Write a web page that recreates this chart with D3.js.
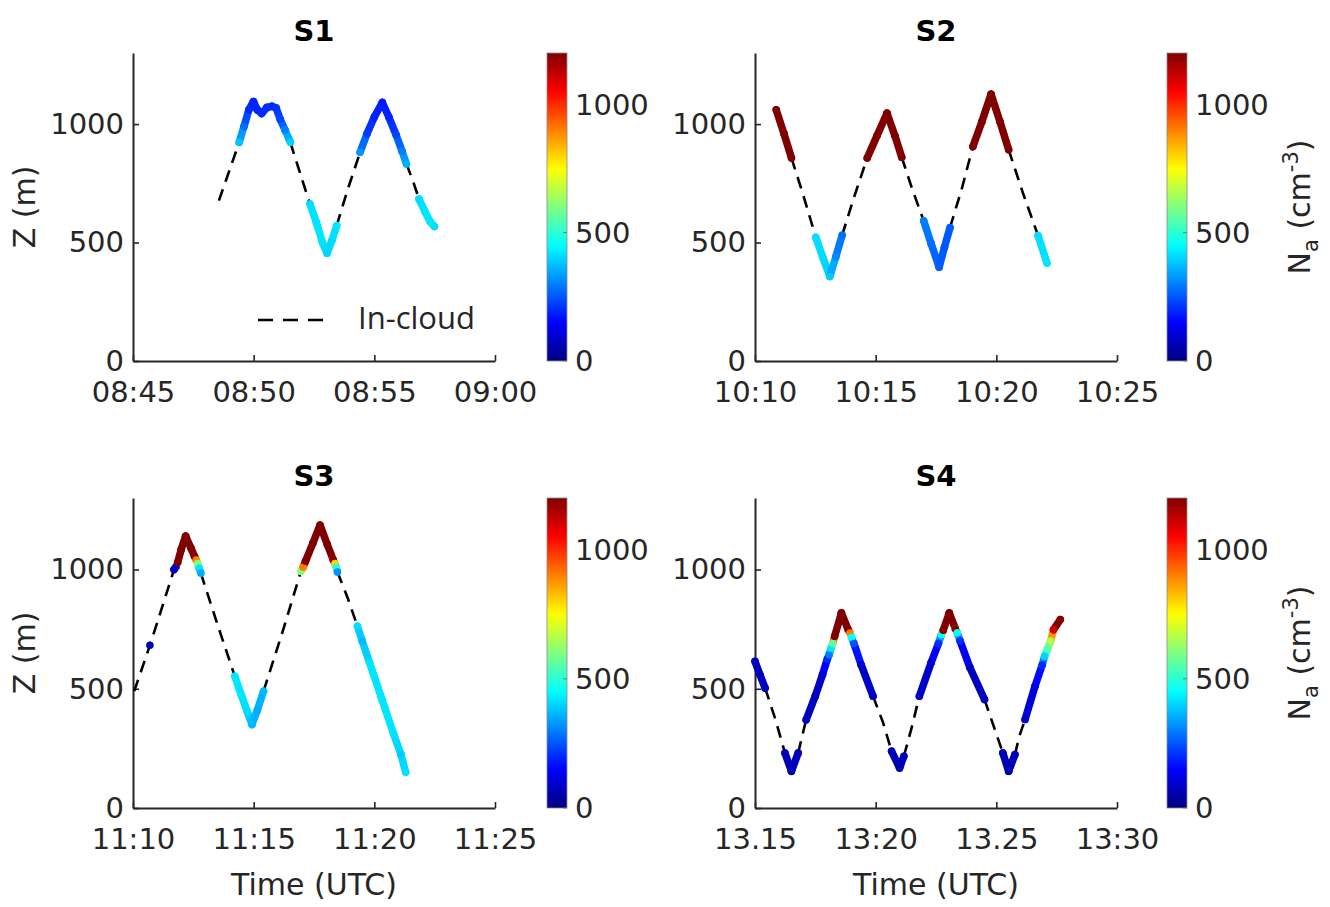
<!DOCTYPE html>
<html><head><meta charset="utf-8">
<script src="https://cdn.jsdelivr.net/npm/d3@7"></script>
<style>body{margin:0;background:#fff}svg{display:block}</style>
</head><body><svg id="c" width="1330" height="907"></svg>
<script>
// ---------- DATA (time in minutes after the first x tick, altitude in m, Na in cm^-3; null = in-cloud) ----------
const panelTitles = ["S1", "S2", "S3", "S4"];
const xTickValues = [0, 5, 10, 15];
const s1XTicks = ["08:45", "08:50", "08:55", "09:00"];
const s2XTicks = ["10:10", "10:15", "10:20", "10:25"];
const s3XTicks = ["11:10", "11:15", "11:20", "11:25"];
const s4XTicks = ["13.15", "13:20", "13.25", "13:30"];
const yTicks = [0, 500, 1000];
const cbTicks = [0, 500, 1000];

const s1T = [3.56, 4.4, 4.6, 4.8, 4.99, 5.15, 5.33, 5.55, 5.75, 5.93, 6.1, 6.3, 6.52, 6.9, 7.33, 7.6, 7.85, 8.04, 8.25, 8.44, 8.9, 9.41, 9.7, 10.0, 10.33, 10.6, 10.9, 11.15, 11.33, 11.6, 11.85, 12.1, 12.3, 12.49];
const s1Z = [677, 923, 990, 1060, 1095, 1060, 1045, 1070, 1075, 1068, 1020, 975, 923, 800, 663, 585, 500, 455, 510, 572, 725, 881, 960, 1030, 1091, 1030, 955, 885, 832, 760, 684, 630, 590, 568];
const s1N = [null, 380, 280, 200, 190, 190, 200, 200, 200, 210, 230, 300, 400, null, 410, 420, 420, 400, 410, 420, null, 330, 220, 190, 180, 190, 230, 300, 360, null, 410, 420, 420, 410];

const s2T = [0.88, 1.2, 1.51, 2.0, 2.52, 2.8, 3.1, 3.35, 3.61, 4.1, 4.65, 5.05, 5.47, 5.8, 6.08, 6.5, 6.99, 7.3, 7.63, 7.85, 8.08, 8.55, 9.03, 9.4, 9.78, 10.15, 10.51, 11.1, 11.73, 12.1];
const s2Z = [1060, 960, 857, 700, 522, 440, 357, 440, 531, 690, 857, 950, 1046, 950, 860, 730, 592, 495, 396, 480, 563, 720, 905, 1010, 1126, 1010, 892, 710, 529, 413];
const s2N = [1300, 1300, 1300, null, 410, 410, 390, 310, 280, null, 1300, 1300, 1300, 1300, 1300, null, 300, 280, 260, 250, 260, null, 1300, 1300, 1300, 1300, 1300, null, 410, 420];

const s3T = [0.05, 0.7, 1.2, 1.7, 1.78, 1.85, 2.0, 2.18, 2.4, 2.55, 2.62, 2.68, 2.74, 2.81, 3.5, 4.22, 4.5, 4.75, 4.93, 5.15, 5.41, 6.2, 6.96, 7.05, 7.15, 7.45, 7.75, 8.05, 8.3, 8.37, 8.42, 8.47, 8.9, 9.3, 9.5, 9.8, 10.3, 10.8, 11.1, 11.3];
const s3Z = [490, 682, 840, 1000, 1012, 1030, 1085, 1140, 1090, 1055, 1040, 1025, 1005, 985, 770, 552, 470, 400, 350, 410, 490, 740, 993, 1010, 1035, 1110, 1186, 1105, 1040, 1025, 1010, 990, 880, 762, 700, 610, 460, 310, 225, 150];
const s3N = [null, 60, null, 80, 100, 1300, 1300, 1300, 1300, 1300, 900, 600, 420, 350, null, 420, 420, 410, 370, 350, 370, null, 600, 900, 1300, 1300, 1300, 1300, 1300, 800, 500, 320, null, 410, 370, 420, 420, 420, 390, 420];

const s4T = [0.0, 0.2, 0.42, 0.85, 1.24, 1.51, 1.79, 1.95, 2.12, 2.5, 2.8, 3.0, 3.07, 3.15, 3.22, 3.3, 3.58, 3.85, 3.94, 4.0, 4.1, 4.4, 4.89, 5.3, 5.66, 5.99, 6.17, 6.5, 6.81, 7.3, 7.6, 7.72, 7.8, 8.05, 8.3, 8.38, 8.5, 8.9, 9.51, 9.9, 10.27, 10.51, 10.77, 10.95, 11.19, 11.6, 11.9, 12.0, 12.12, 12.25, 12.37, 12.65];
const s4Z = [615, 560, 503, 370, 231, 154, 231, 300, 370, 470, 560, 625, 643, 670, 690, 720, 818, 750, 734, 715, 690, 600, 469, 360, 238, 168, 217, 340, 469, 610, 690, 727, 745, 818, 752, 735, 700, 590, 455, 340, 231, 154, 224, 300, 371, 510, 600, 636, 668, 700, 748, 790];
const s4N = [70, 70, 80, null, 70, 60, 70, null, 80, 70, 100, 200, 300, 420, 560, 1250, 1300, 1300, 900, 450, 250, 100, 70, null, 70, 60, 70, null, 80, 100, 200, 450, 1250, 1300, 1300, 450, 200, 80, 70, null, 70, 60, 70, null, 90, 120, 200, 400, 550, 650, 1100, 1300];

const seriesT = [s1T, s2T, s3T, s4T];
const seriesZ = [s1Z, s2Z, s3Z, s4Z];
const seriesN = [s1N, s2N, s3N, s4N];
const xTickLabels = [s1XTicks, s2XTicks, s3XTicks, s4XTicks];

// ---------- LAYOUT ----------
const layout = [
  {x0: 133, x1: 495, y0: 53, y1: 361, cb: 547, left: true, bottom: false, cbLabel: false},
  {x0: 755, x1: 1117, y0: 53, y1: 361, cb: 1167, left: false, bottom: false, cbLabel: true},
  {x0: 133, x1: 495, y0: 498, y1: 808, cb: 547, left: true, bottom: true, cbLabel: false},
  {x0: 755, x1: 1117, y0: 498, y1: 808, cb: 1167, left: false, bottom: true, cbLabel: true}
];
const TXT = "#262626";
const FONT = "'DejaVu Sans', sans-serif";

function jet(v) {
  v = Math.max(0, Math.min(1, v));
  const c = x => Math.round(255 * Math.max(0, Math.min(1, x)));
  return `rgb(${c(1.5 - Math.abs(4 * v - 3))},${c(1.5 - Math.abs(4 * v - 2))},${c(1.5 - Math.abs(4 * v - 1))})`;
}
const color = d3.scaleSequential(jet).domain([0, 1200]).clamp(true);

const svg = d3.select("#c");
svg.append("rect").attr("width", 1330).attr("height", 907).attr("fill", "#fff");

const defs = svg.append("defs");
const grad = defs.append("linearGradient").attr("id", "jetgrad")
  .attr("x1", 0).attr("y1", 1).attr("x2", 0).attr("y2", 0);
d3.range(0, 1.0001, 0.02).forEach(t => grad.append("stop").attr("offset", t).attr("stop-color", jet(t)));

function styleAxis(g) {
  g.select(".domain").attr("stroke", TXT).attr("stroke-width", 2);
  g.selectAll(".tick line").attr("stroke", TXT).attr("stroke-width", 1.6);
  g.selectAll(".tick text").attr("fill", TXT).attr("font-family", FONT).attr("font-size", 29);
  g.attr("font-family", FONT).attr("font-size", 29);
}

layout.forEach((L, p) => {
  const x = d3.scaleLinear().domain([0, 15]).range([L.x0, L.x1]);
  const y = d3.scaleLinear().domain([0, 1300]).range([L.y1, L.y0]);
  const g = svg.append("g");

  // axes
  const gx = g.append("g").attr("transform", `translate(0,${L.y1})`)
    .call(d3.axisBottom(x).tickValues(xTickValues).tickFormat((d, i) => xTickLabels[p][i])
      .tickSize(-6).tickSizeOuter(0).tickPadding(20));
  styleAxis(gx);
  const gy = g.append("g").attr("transform", `translate(${L.x0},0)`)
    .call(d3.axisLeft(y).tickValues(yTicks).tickFormat(d3.format("d"))
      .tickSize(-6).tickSizeOuter(0).tickPadding(9));
  styleAxis(gy);

  // data
  const T = seriesT[p], Z = seriesZ[p], N = seriesN[p];
  const pts = T.map((t, i) => ({t, z: Z[i], n: N[i]}));
  const line = d3.line().x(d => x(d.t)).y(d => y(d.z));

  // dashed runs (in-cloud)
  let run = null;
  const runs = [];
  for (let i = 0; i < pts.length - 1; i++) {
    const dashed = pts[i].n === null || pts[i + 1].n === null;
    if (dashed) {
      if (!run) { run = [pts[i]]; runs.push(run); }
      run.push(pts[i + 1]);
    } else run = null;
  }
  g.selectAll(".dash").data(runs).join("path")
    .attr("d", line).attr("fill", "none").attr("stroke", "#000")
    .attr("stroke-width", 2.6).attr("stroke-dasharray", "12,8");

  // coloured segments
  const segs = [];
  for (let i = 0; i < pts.length - 1; i++) {
    if (pts[i].n !== null && pts[i + 1].n !== null) segs.push([pts[i], pts[i + 1]]);
  }
  g.selectAll(".seg").data(segs).join("line")
    .attr("x1", d => x(d[0].t)).attr("y1", d => y(d[0].z))
    .attr("x2", d => x(d[1].t)).attr("y2", d => y(d[1].z))
    .attr("stroke", d => color((d[0].n + d[1].n) / 2))
    .attr("stroke-width", 7.5).attr("stroke-linecap", "round");
  g.selectAll(".dot").data(pts.filter(d => d.n !== null)).join("circle")
    .attr("cx", d => x(d.t)).attr("cy", d => y(d.z)).attr("r", 3.75)
    .attr("fill", d => color(d.n));

  // title
  g.append("text").attr("x", (L.x0 + L.x1) / 2).attr("y", L.y0 - 12)
    .attr("text-anchor", "middle").attr("font-family", FONT).attr("font-weight", "bold")
    .attr("font-size", 29).attr("fill", "#000").text(panelTitles[p]);

  // y label
  if (L.left) {
    g.append("text").attr("transform", `translate(35,${(L.y0 + L.y1) / 2}) rotate(-90)`)
      .attr("text-anchor", "middle").attr("font-family", FONT).attr("font-size", 30)
      .attr("fill", TXT).text("Z (m)");
  }
  // x label
  if (L.bottom) {
    g.append("text").attr("x", (L.x0 + L.x1) / 2).attr("y", 895)
      .attr("text-anchor", "middle").attr("font-family", FONT).attr("font-size", 30)
      .attr("fill", TXT).text("Time (UTC)");
  }

  // colorbar
  const cy = d3.scaleLinear().domain([0, 1200]).range([L.y1, L.y0]);
  g.append("rect").attr("x", L.cb).attr("y", L.y0).attr("width", 20).attr("height", L.y1 - L.y0)
    .attr("fill", "url(#jetgrad)").attr("stroke", "#8a8a8a").attr("stroke-width", 0.8);
  g.selectAll(".cbt").data(cbTicks).join("line")
    .attr("x1", L.cb + 16).attr("x2", L.cb + 20).attr("y1", d => cy(d)).attr("y2", d => cy(d))
    .attr("stroke", "#666").attr("stroke-width", 0.8);
  g.selectAll(".cbl").data(cbTicks).join("text")
    .attr("x", L.cb + 28).attr("y", d => cy(d)).attr("dy", "0.36em")
    .attr("font-family", FONT).attr("font-size", 29).attr("fill", TXT).text(d => d);
  if (L.cbLabel) {
    const t = g.append("text").attr("transform", `translate(1310,${(L.y0 + L.y1) / 2}) rotate(-90)`)
      .attr("text-anchor", "middle").attr("font-family", FONT).attr("font-size", 30).attr("fill", TXT);
    t.append("tspan").text("N");
    t.append("tspan").attr("font-size", 21).attr("dy", 8).text("a");
    t.append("tspan").attr("dy", -8).text(" (cm");
    t.append("tspan").attr("font-size", 21).attr("dy", -12).text("-3");
    t.append("tspan").attr("dy", 12).text(")");
  }

  // legend in S1
  if (p === 0) {
    g.append("line").attr("x1", 258).attr("x2", 332).attr("y1", 320).attr("y2", 320)
      .attr("stroke", "#000").attr("stroke-width", 2.6).attr("stroke-dasharray", "15,10");
    g.append("text").attr("x", 358).attr("y", 329).attr("font-family", "'Open Sans', sans-serif")
      .attr("font-size", 31).attr("fill", TXT).text("In-cloud");
  }
});
</script></body></html>
